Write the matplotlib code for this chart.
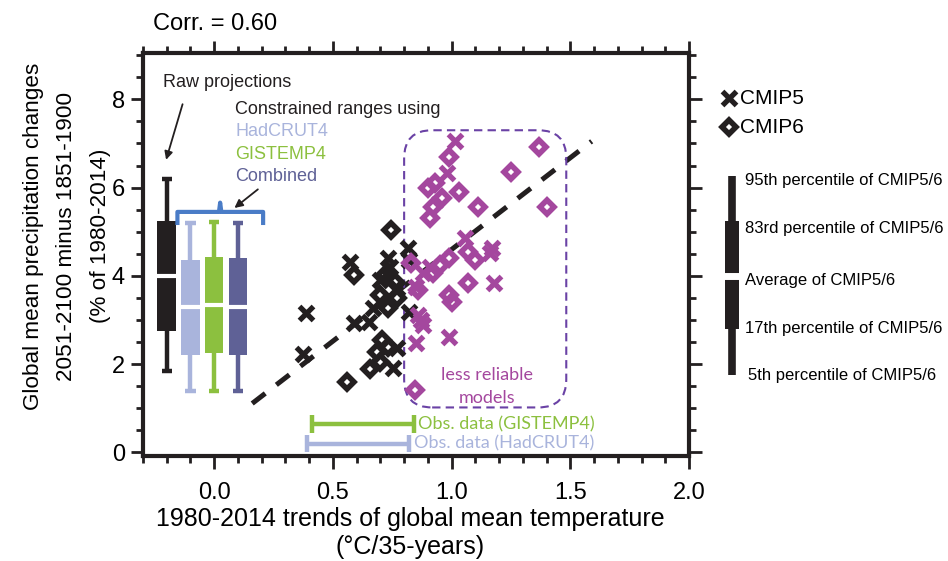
import matplotlib
matplotlib.use("Agg")
import matplotlib.pyplot as plt
from matplotlib.patches import FancyBboxPatch
from matplotlib.ticker import MultipleLocator, FormatStrFormatter

plt.rcParams["font.family"] = ["Liberation Sans", "DejaVu Sans"]

BLACK = "#231f20"
MAGENTA = "#a4479e"
HAD = "#a9b4dc"
GIS = "#8cc03f"
COMB = "#5f6196"
BRACE = "#4a7cc7"
BOXLINE = "#6a42a5"

# raw / constrained ranges (5th, 17th, mean, 83rd, 95th percentile)
box_names = ["Raw", "HadCRUT4", "GISTEMP4", "Combined"]
box_pos = [-0.2, -0.1, 0.0, 0.1]
box_p5 = [1.85, 1.4, 1.4, 1.4]
box_p17 = [2.75, 2.2, 2.25, 2.2]
box_mean = [4.0, 3.3, 3.35, 3.3]
box_p83 = [5.25, 4.35, 4.42, 4.4]
box_p95 = [6.2, 5.2, 5.22, 5.2]
box_colors = [BLACK, HAD, GIS, COMB]

# models inside the reliable range (black)
cmip5_x = [0.387, 0.374, 0.571, 0.731, 0.815, 0.82, 0.77, 0.67, 0.82, 0.59,
           0.65, 0.77, 0.752, 0.74, 0.70]
cmip5_y = [3.16, 2.23, 4.32, 4.41, 4.64, 4.36, 3.73, 3.27, 3.18, 2.93,
           2.95, 2.36, 1.91, 4.2, 3.9]
cmip6_x = [0.744, 0.588, 0.718, 0.76, 0.70, 0.73, 0.77, 0.706, 0.73, 0.685,
           0.70, 0.655, 0.56]
cmip6_y = [5.05, 4.02, 4.02, 3.86, 3.57, 3.27, 3.5, 2.55, 2.39, 2.27,
           2.05, 1.9, 1.6]

# less reliable models (magenta)
lr5_x = [1.013, 0.98, 1.055, 1.17, 1.16, 0.91, 0.88, 1.18, 0.85, 0.857,
         0.88, 0.85, 0.99, 0.87]
lr5_y = [7.05, 6.34, 4.86, 4.64, 4.52, 4.2, 4.07, 3.84, 3.75, 3.11,
         2.89, 2.48, 2.61, 3.0]
lr6_x = [0.99, 0.90, 0.93, 0.96, 0.92, 0.91, 1.03, 1.11, 1.25, 1.37,
         1.40, 1.07, 1.10, 0.99, 0.95, 0.83, 1.07, 0.99, 1.0, 0.857,
         0.845, 0.92]
lr6_y = [6.7, 6.0, 6.11, 5.77, 5.55, 5.32, 5.89, 5.55, 6.36, 6.93,
         5.55, 4.55, 4.36, 4.41, 4.25, 4.3, 3.84, 3.57, 3.41, 3.68,
         1.41, 4.07]

# regression line end points
reg_x = [0.16, 1.59]
reg_y = [1.11, 7.05]

# observed trend ranges
obs_names = ["GISTEMP4", "HadCRUT4"]
obs_lo = [0.41, 0.39]
obs_hi = [0.84, 0.82]
obs_y = [0.64, 0.2]
obs_colors = [GIS, HAD]

legend_labels = ["95th percentile of CMIP5/6", "83rd percentile of CMIP5/6",
                 "Average of CMIP5/6", "17th percentile of CMIP5/6",
                 "5th percentile of CMIP5/6"]

fig = plt.figure(figsize=(9.48, 5.61), dpi=100)
ax = fig.add_axes([143 / 948, 1 - 456 / 561, (689 - 143) / 948, (456 - 53) / 561])
ax.set_xlim(-0.3, 2.0)
ax.set_ylim(-0.08, 9.05)

for s in ax.spines.values():
    s.set_linewidth(3.0)
    s.set_color(BLACK)
ax.xaxis.set_major_locator(MultipleLocator(0.5))
ax.xaxis.set_minor_locator(MultipleLocator(0.1))
ax.yaxis.set_major_locator(MultipleLocator(2))
ax.yaxis.set_minor_locator(MultipleLocator(0.5))
ax.xaxis.set_major_formatter(FormatStrFormatter("%.1f"))
ax.tick_params(which="both", direction="out", top=True, right=True,
               width=2.0, color=BLACK, labelsize=17)
ax.tick_params(which="major", length=9)
ax.tick_params(which="minor", length=5)
ax.tick_params(axis="x", which="major", pad=10)
ax.tick_params(axis="y", which="major", pad=4)

# box plots
for p, lo, q1, m, q3, hi, c in zip(box_pos, box_p5, box_p17, box_mean,
                                   box_p83, box_p95, box_colors):
    ax.vlines(p, lo, hi, color=c, lw=3.2, zorder=2)
    ax.hlines([lo, hi], p - 0.022, p + 0.022, color=c, lw=3.2, zorder=2)
    ax.bar(p, q3 - q1, bottom=q1, width=0.078, color=c, zorder=3)
    ax.hlines(m, p - 0.045, p + 0.045, color="white", lw=3.0, zorder=4)

# brace over constrained ranges
ax.plot([-0.155, -0.155, 0.02, 0.025, 0.03, 0.206, 0.206],
        [5.2, 5.45, 5.45, 5.66, 5.45, 5.45, 5.2],
        color=BRACE, lw=3.0, solid_joinstyle="round", zorder=3)

ax.text(-0.214, 8.39, "Raw projections", fontsize=13, va="center", color=BLACK)
ax.annotate("", xy=(-0.206, 6.57), xytext=(-0.13, 7.95),
            arrowprops=dict(arrowstyle="-|>", color=BLACK, lw=1.3,
                            mutation_scale=12))
ax.text(0.088, 7.77, "Constrained ranges using", fontsize=13, va="center",
        color=BLACK)
ax.text(0.088, 7.27, "HadCRUT4", fontsize=13, va="center", color=HAD)
ax.text(0.088, 6.75, "GISTEMP4", fontsize=13, va="center", color=GIS)
ax.text(0.088, 6.25, "Combined", fontsize=13, va="center", color=COMB)
ax.annotate("", xy=(0.076, 5.5), xytext=(0.193, 6.0),
            arrowprops=dict(arrowstyle="-|>", color=BLACK, lw=1.3,
                            mutation_scale=12))

# regression line
ax.plot(reg_x, reg_y, color=BLACK, lw=3.6, ls=(0, (3.3, 2.8)), zorder=5)

# less reliable models box
box = FancyBboxPatch((0.80, 1.02), 1.483 - 0.80, 7.3 - 1.02,
                     boxstyle="round,pad=0,rounding_size=0.118",
                     mutation_aspect=5.4, fill=False, ec=BOXLINE, lw=1.5,
                     ls=(0, (4, 2.5)), zorder=6)
ax.add_patch(box)
ax.text(1.15, 1.75, "less reliable", fontsize=13, ha="center", va="center",
        color=MAGENTA, family=["Lato", "DejaVu Sans"])
ax.text(1.15, 1.23, "models", fontsize=13, ha="center", va="center",
        color=MAGENTA, family=["Lato", "DejaVu Sans"])

# scatter points
mk_x = dict(marker="x", ms=10, mew=3.8, ls="none")
mk_d = dict(marker="D", ms=7.2, mew=4.0, mfc="none", ls="none")
ax.plot(cmip5_x, cmip5_y, color=BLACK, zorder=7, **mk_x)
ax.plot(cmip6_x, cmip6_y, color=BLACK, mec=BLACK, zorder=7, **mk_d)
ax.plot(lr5_x, lr5_y, color=MAGENTA, zorder=8, **mk_x)
ax.plot(lr6_x, lr6_y, color=MAGENTA, mec=MAGENTA, zorder=8, **mk_d)

# observational ranges
for lo, hi, y, c, name in zip(obs_lo, obs_hi, obs_y, obs_colors, obs_names):
    ax.hlines(y, lo, hi, color=c, lw=3.2, zorder=5)
    ax.vlines([lo, hi], y - 0.2, y + 0.2, color=c, lw=3.2, zorder=5)
    ax.text(hi + 0.02, y, f"Obs. data ({name})", fontsize=13, va="center",
            color=c, family=["Lato", "DejaVu Sans"])

fig.text(153 / 948, 1 - 24 / 561, "Corr. = 0.60", fontsize=17, va="center")
fig.text(67 / 948, 1 - 236 / 561,
         "Global mean precipitation changes\n2051-2100 minus 1851-1900\n(% of 1980-2014)",
         fontsize=16.2, rotation=90, ha="center", va="center", ma="center",
         linespacing=1.78)
fig.text(410 / 948, 1 - 533 / 561,
         "1980-2014 trends of global mean temperature\n(°C/35-years)",
         fontsize=18, ha="center", va="center", ma="center", linespacing=1.22)

# right-hand legend, drawn in pixel coordinates
lax = fig.add_axes([0, 0, 1, 1])
lax.set_xlim(0, 948)
lax.set_ylim(561, 0)
lax.axis("off")
lax.patch.set_alpha(0)
lax.plot([729], [98], color=BLACK, **mk_x)
lax.text(740, 98, "CMIP5", fontsize=15, va="center")
lax.plot([729], [127], color=BLACK, mec=BLACK, **mk_d)
lax.text(740, 127, "CMIP6", fontsize=15, va="center")
leg_y = [180, 228, 280, 328, 375]
lax.vlines(732, 176, 375, color=BLACK, lw=5.5)
lax.bar(732, 329 - 221, bottom=221, width=14, color=BLACK)
lax.hlines(276, 722, 742, color="white", lw=5)
for i, (lab, y) in enumerate(zip(legend_labels, leg_y)):
    lax.text(745 if i < 4 else 748, y, lab, fontsize=12, va="center")

fig.savefig("out.png", dpi=100)
